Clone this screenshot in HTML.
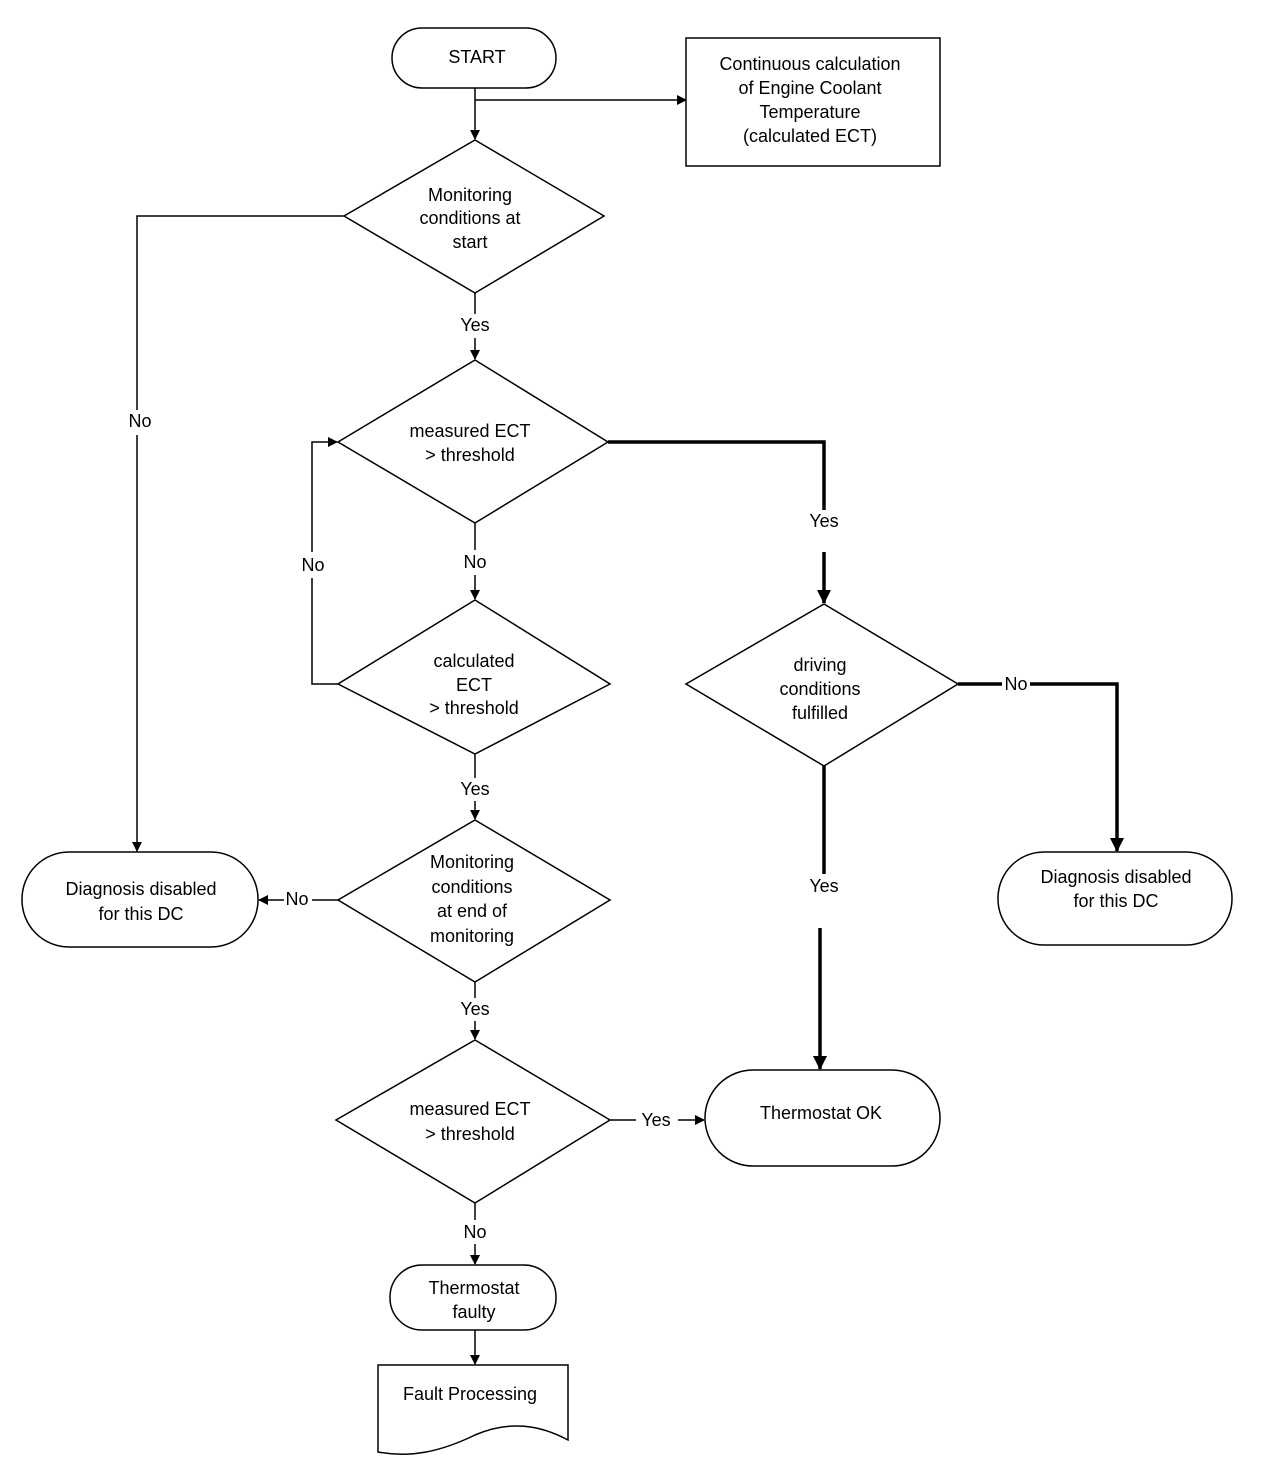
<!DOCTYPE html>
<html><head><meta charset="utf-8"><style>
html,body{margin:0;padding:0;background:#fff;}
svg{display:block;}
text{font-family:"Liberation Sans",Arial,sans-serif;font-size:18px;fill:#000;text-anchor:middle;}
</style></head><body>
<svg width="1264" height="1478" viewBox="0 0 1264 1478" xmlns="http://www.w3.org/2000/svg">
<defs>
<marker id="a" markerWidth="10" markerHeight="10" refX="9" refY="5" orient="auto" markerUnits="userSpaceOnUse"><path d="M0,0 L10,5 L0,10 z" fill="#000"/></marker>
<marker id="b" markerWidth="14" markerHeight="14" refX="13" refY="7" orient="auto" markerUnits="userSpaceOnUse"><path d="M0,0 L14,7 L0,14 z" fill="#000"/></marker>
</defs>
<g fill="none" stroke="#000" stroke-width="1.5">
<!-- shapes -->
<rect x="392" y="28" width="164" height="60" rx="30"/>
<rect x="686" y="38" width="254" height="128"/>
<polygon points="475,140 604,216 475,293 344,216"/>
<polygon points="475,360 608,442 475,523 338,442"/>
<polygon points="475,600 610,684 475,754 338,684"/>
<polygon points="475,820 610,900 475,982 338,900"/>
<polygon points="475,1040 610,1120 475,1203 336,1120"/>
<polygon points="824,604 958,684 824,766 686,684"/>
<rect x="22" y="852" width="236" height="95" rx="47"/>
<rect x="998" y="852" width="234" height="93" rx="46"/>
<rect x="705" y="1070" width="235" height="96" rx="48"/>
<rect x="390" y="1265" width="166" height="65" rx="32"/>
<path d="M378,1365 L568,1365 L568,1440 C540,1425 510,1420 475,1435 C440,1452 410,1458 378,1452 Z"/>
<!-- connectors -->
<line x1="475" y1="88" x2="475" y2="139" marker-end="url(#a)"/>
<polyline points="475,100 686,100" marker-end="url(#a)"/>
<polyline points="344,216 137,216 137,410"/>
<line x1="137" y1="435" x2="137" y2="851" marker-end="url(#a)"/>
<line x1="475" y1="293" x2="475" y2="314"/>
<line x1="475" y1="338" x2="475" y2="359" marker-end="url(#a)"/>
<line x1="475" y1="523" x2="475" y2="550"/>
<line x1="475" y1="575" x2="475" y2="599" marker-end="url(#a)"/>
<polyline points="338,684 312,684 312,578"/>
<polyline points="312,552 312,442 337,442" marker-end="url(#a)"/>
<line x1="475" y1="754" x2="475" y2="778"/>
<line x1="475" y1="801" x2="475" y2="819" marker-end="url(#a)"/>
<line x1="338" y1="900" x2="312" y2="900"/>
<line x1="284" y1="900" x2="259" y2="900" marker-end="url(#a)"/>
<line x1="475" y1="982" x2="475" y2="998"/>
<line x1="475" y1="1021" x2="475" y2="1039" marker-end="url(#a)"/>
<line x1="610" y1="1120" x2="636" y2="1120"/>
<line x1="678" y1="1120" x2="704" y2="1120" marker-end="url(#a)"/>
<line x1="475" y1="1203" x2="475" y2="1220"/>
<line x1="475" y1="1244" x2="475" y2="1264" marker-end="url(#a)"/>
<line x1="475" y1="1330" x2="475" y2="1364" marker-end="url(#a)"/>
</g>
<g fill="none" stroke="#000" stroke-width="3.5">
<polyline points="608,442 824,442 824,510"/>
<line x1="824" y1="552" x2="824" y2="603" marker-end="url(#b)"/>
<line x1="958" y1="684" x2="1002" y2="684"/>
<polyline points="1030,684 1117,684 1117,851" marker-end="url(#b)"/>
<line x1="824" y1="766" x2="824" y2="874"/>
<line x1="820" y1="928" x2="820" y2="1069" marker-end="url(#b)"/>
</g>
<text x="477" y="63">START</text>
<text x="810" y="70">Continuous calculation</text>
<text x="810" y="94">of Engine Coolant</text>
<text x="810" y="118">Temperature</text>
<text x="810" y="142">(calculated ECT)</text>
<text x="470" y="201">Monitoring</text>
<text x="470" y="224">conditions at</text>
<text x="470" y="248">start</text>
<text x="140" y="427">No</text>
<text x="475" y="331">Yes</text>
<text x="470" y="437">measured ECT</text>
<text x="470" y="461">&gt; threshold</text>
<text x="824" y="527">Yes</text>
<text x="475" y="568">No</text>
<text x="313" y="571">No</text>
<text x="474" y="667">calculated</text>
<text x="474" y="691">ECT</text>
<text x="474" y="714">&gt; threshold</text>
<text x="475" y="795">Yes</text>
<text x="472" y="868">Monitoring</text>
<text x="472" y="893">conditions</text>
<text x="472" y="917">at end of</text>
<text x="472" y="942">monitoring</text>
<text x="297" y="905">No</text>
<text x="141" y="895">Diagnosis disabled</text>
<text x="141" y="920">for this DC</text>
<text x="475" y="1015">Yes</text>
<text x="470" y="1115">measured ECT</text>
<text x="470" y="1140">&gt; threshold</text>
<text x="656" y="1126">Yes</text>
<text x="821" y="1119">Thermostat OK</text>
<text x="475" y="1238">No</text>
<text x="474" y="1294">Thermostat</text>
<text x="474" y="1318">faulty</text>
<text x="470" y="1400">Fault Processing</text>
<text x="820" y="671">driving</text>
<text x="820" y="695">conditions</text>
<text x="820" y="719">fulfilled</text>
<text x="1016" y="690">No</text>
<text x="1116" y="883">Diagnosis disabled</text>
<text x="1116" y="907">for this DC</text>
<text x="824" y="892">Yes</text>
</svg>
</body></html>
